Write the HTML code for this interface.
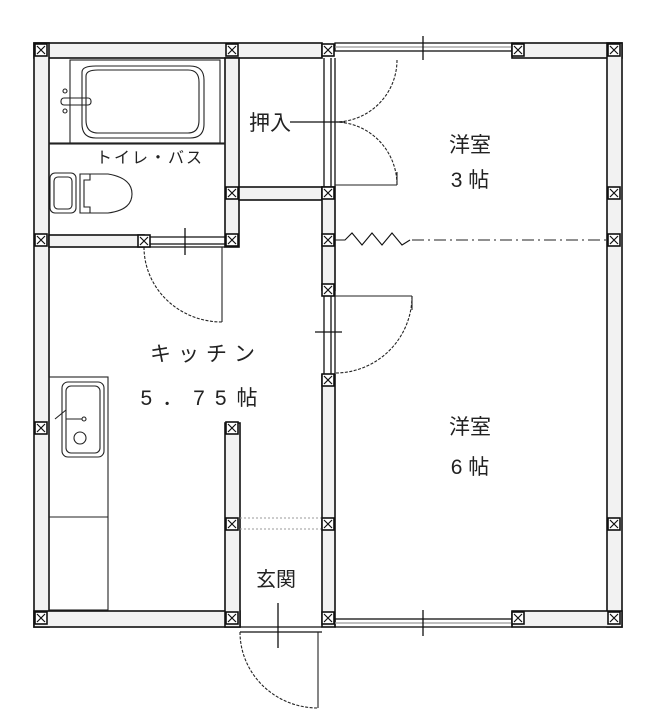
<!DOCTYPE html>
<html><head><meta charset="utf-8"><style>
html,body{margin:0;padding:0;background:#fff;}
svg{display:block;}
text{font-family:"Liberation Sans","Noto Sans CJK JP",sans-serif;fill:#222;}
</style></head><body>
<svg width="657" height="720" viewBox="0 0 657 720" xmlns="http://www.w3.org/2000/svg">
<defs>
<g id="col"><rect x="-6" y="-6" width="12" height="12" fill="#fff" stroke="#111" stroke-width="1.6"/><path d="M-4,-4L4,4M4,-4L-4,4" stroke="#111" stroke-width="1.2"/></g>
</defs>
<g fill="#f2f2f2" stroke="#111" stroke-width="1.6">
<rect x="34" y="43" width="288" height="15"/>
<rect x="512" y="43" width="110" height="15"/>
<rect x="34" y="43" width="15" height="584"/>
<rect x="607" y="43" width="15" height="584"/>
<rect x="34" y="611" width="206" height="16"/>
<rect x="512" y="611" width="110" height="16"/>
<rect x="225" y="58" width="14" height="189"/>
<rect x="49" y="235" width="95" height="12"/>
<rect x="239" y="187" width="83" height="13"/>
<rect x="322" y="187" width="13" height="103"/>
<rect x="322" y="375" width="13" height="252"/>
<rect x="225" y="423" width="15" height="204"/>
</g>
<g stroke="#111" stroke-width="1.3" fill="none">
<rect x="335" y="43" width="177" height="8"/>
<line x1="335" y1="47" x2="512" y2="47" stroke="#999"/>
<line x1="423" y1="36" x2="423" y2="60"/>
<rect x="335" y="619" width="177" height="8"/>
<line x1="335" y1="623" x2="512" y2="623" stroke="#999"/>
<line x1="423" y1="610" x2="423" y2="636"/>
<line x1="324" y1="58" x2="324" y2="187"/><line x1="331" y1="58" x2="331" y2="187"/><line x1="335" y1="58" x2="335" y2="187"/>
<line x1="324" y1="290" x2="324" y2="375"/><line x1="331" y1="290" x2="331" y2="375"/><line x1="335" y1="290" x2="335" y2="375"/>
<line x1="315" y1="332" x2="342" y2="332"/>
<line x1="290" y1="122" x2="345" y2="122"/>
<line x1="144" y1="237" x2="225" y2="237"/><line x1="144" y1="244" x2="225" y2="244"/><line x1="144" y1="247" x2="225" y2="247"/>
<line x1="185" y1="228" x2="185" y2="255"/>
<line x1="240" y1="627" x2="322" y2="627"/><line x1="240" y1="632" x2="322" y2="632"/>
<line x1="278" y1="603" x2="278" y2="648"/>
</g>
<g stroke="#222" stroke-width="1.1" fill="none">
<path d="M397,60 A62,62 0 0 1 335,122" stroke-dasharray="3,1.5"/>
<path d="M335,122 A62,63 0 0 1 397,185" stroke-dasharray="3,1.5"/>
<line x1="335" y1="185" x2="397" y2="185"/><line x1="397" y1="172" x2="397" y2="185"/>
<path d="M412,296 A77,77 0 0 1 335,373" stroke-dasharray="3,1.5"/>
<line x1="335" y1="296" x2="412" y2="296"/><line x1="412" y1="296" x2="412" y2="310"/>
<path d="M144,247 A78,75 0 0 0 222,322" stroke-dasharray="3,1.5"/>
<line x1="222" y1="247" x2="222" y2="322"/>
<path d="M240,632 A78,76 0 0 0 318,708" stroke-dasharray="3,1.5"/>
<line x1="318" y1="632" x2="318" y2="708"/>
<path d="M335,240 L345,240 L352,233 L362,245 L372,233 L382,245 L392,233 L402,245 L410,240" stroke="#111"/>
<line x1="412" y1="240" x2="607" y2="240" stroke-dasharray="12,4,2,4"/>
<line x1="240" y1="518" x2="322" y2="518" stroke="#999" stroke-dasharray="2,2"/>
<line x1="240" y1="529" x2="322" y2="529" stroke="#999" stroke-dasharray="2,2"/>
</g>
<g stroke="#222" stroke-width="1.1" fill="none">
<rect x="70" y="60" width="150" height="83"/>
<rect x="49" y="143" width="176" height="1"/>
<path d="M82,72 Q82,66 96,66 L190,66 Q204,66 204,80 L204,124 Q204,138 190,138 L96,138 Q82,138 82,124 Z"/>
<path d="M86,76 Q86,70 98,70 L188,70 Q199,70 199,82 L199,120 Q199,133 188,133 L98,133 Q86,133 86,120 Z"/>
<rect x="61" y="98" width="30" height="7" rx="3"/>
<circle cx="65" cy="91" r="2"/><circle cx="65" cy="111" r="2"/>
<rect x="50" y="173" width="26" height="40" rx="5"/>
<rect x="54" y="177" width="18" height="32" rx="4"/>
<path d="M80,174 L90,174 L90,180 L84,180 L84,207 L90,207 L90,213 L80,213 Z"/>
<path d="M90,174 L108,174 Q132,178 132,194 Q132,210 108,213 L90,213"/>
<rect x="49" y="377" width="59" height="233"/>
<line x1="49" y1="517" x2="108" y2="517"/>
<rect x="62" y="382" width="42" height="75" rx="6"/>
<rect x="66" y="386" width="34" height="67" rx="5"/>
<circle cx="80" cy="438" r="6"/>
<path d="M55,419 L66,410 M66,419 L82,419"/><circle cx="84" cy="419" r="2"/>
</g>
<g>
<use href="#col" x="41" y="50"/><use href="#col" x="232" y="50"/><use href="#col" x="328" y="50"/>
<use href="#col" x="518" y="50"/><use href="#col" x="614" y="50"/>
<use href="#col" x="41" y="240"/><use href="#col" x="232" y="240"/><use href="#col" x="232" y="193"/>
<use href="#col" x="328" y="193"/><use href="#col" x="328" y="240"/><use href="#col" x="328" y="290"/>
<use href="#col" x="328" y="380"/><use href="#col" x="328" y="524"/><use href="#col" x="328" y="618"/>
<use href="#col" x="614" y="193"/><use href="#col" x="614" y="240"/><use href="#col" x="614" y="524"/><use href="#col" x="614" y="618"/>
<use href="#col" x="41" y="428"/><use href="#col" x="41" y="618"/>
<use href="#col" x="232" y="428"/><use href="#col" x="232" y="524"/><use href="#col" x="232" y="618"/>
<use href="#col" x="518" y="618"/><use href="#col" x="144" y="241"/>
</g>
<text x="270" y="130" font-size="21" text-anchor="middle">押入</text>
<text x="150" y="163" font-size="16" text-anchor="middle" letter-spacing="2">トイレ・バス</text>
<text x="470" y="152" font-size="21" text-anchor="middle">洋室</text>
<text x="470" y="187" font-size="21" text-anchor="middle">3 帖</text>
<text x="206" y="361" font-size="21" text-anchor="middle" letter-spacing="7">キッチン</text>
<text x="204" y="405" font-size="21" text-anchor="middle" letter-spacing="10">5．75帖</text>
<text x="470" y="434" font-size="21" text-anchor="middle">洋室</text>
<text x="470" y="474" font-size="21" text-anchor="middle">6 帖</text>
<text x="276" y="586" font-size="20" text-anchor="middle">玄関</text>
</svg>
</body></html>
